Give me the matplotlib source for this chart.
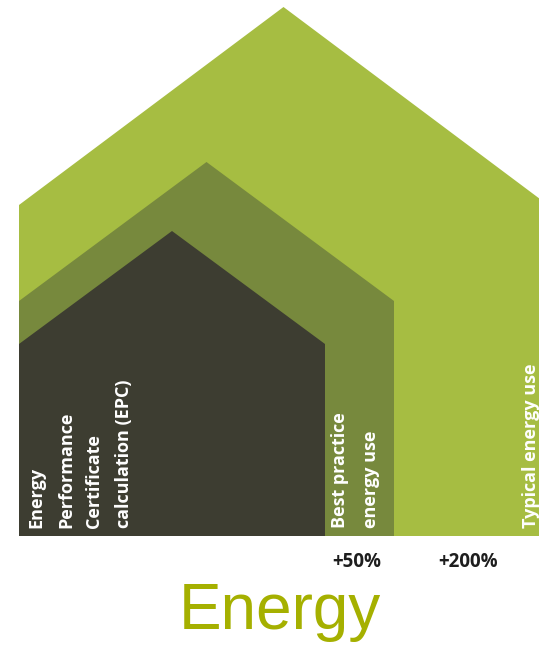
import matplotlib
matplotlib.use("Agg")
import matplotlib.pyplot as plt
from matplotlib.patches import Polygon

# Nested house levels (innermost first)
levels = ["EPC", "Best practice", "Typical"]
level_labels = [
    ["Energy", "Performance", "Certificate", "calculation (EPC)"],
    ["Best practice", "energy use"],
    ["Typical energy use"],
]
uplifts = ["+50%", "+200%"]
title = "Energy"

# House outlines in pixel space: left wall x, half-width, eave y, peak y
left_x = [19, 19, 19]
half_width = [153, 187.5, 264.5]
eave_y = [344, 301, 205]
peak_y = [231, 162, 7]
base_y = 536
colors = ["#3d3d31", "#77893d", "#a6bd42"]

W, H = 539, 649
fig = plt.figure(figsize=(W / 100, H / 100), dpi=100)
ax = fig.add_axes([0, 0, 1, 1])
ax.set_xlim(0, W)
ax.set_ylim(H, 0)
ax.axis("off")

# draw outermost first
for i in reversed(range(len(levels))):
    x0 = left_x[i]
    x1 = x0 + 2 * half_width[i]
    xm = x0 + half_width[i]
    pts = [(x0, base_y), (x0, eave_y[i]), (xm, peak_y[i]), (x1, eave_y[i]), (x1, base_y)]
    ax.add_patch(Polygon(pts, closed=True, facecolor=colors[i], edgecolor="none"))

font = "Open Sans"
txt_kw = dict(color="white", rotation=90, ha="center", va="bottom",
              fontsize=13, family=font, fontweight="bold")

# labels inside each level, reading bottom-to-top
label_x = [[36, 66, 94, 124], [340, 371], [531]]
for xs, lines in zip(label_x, level_labels):
    for x, s in zip(xs, lines):
        ax.text(x, 528, s, **txt_kw)

uplift_x = [357, 468]
for x, s in zip(uplift_x, uplifts):
    ax.text(x, 562, s, ha="center", va="center", fontsize=13.5,
            family=font, fontweight="bold", color="#1e1e1e")

ax.text(280, 612, title, ha="center", va="center", fontsize=46,
        family="Liberation Sans", color="#a5b000")

fig.savefig("out.png", dpi=100)
